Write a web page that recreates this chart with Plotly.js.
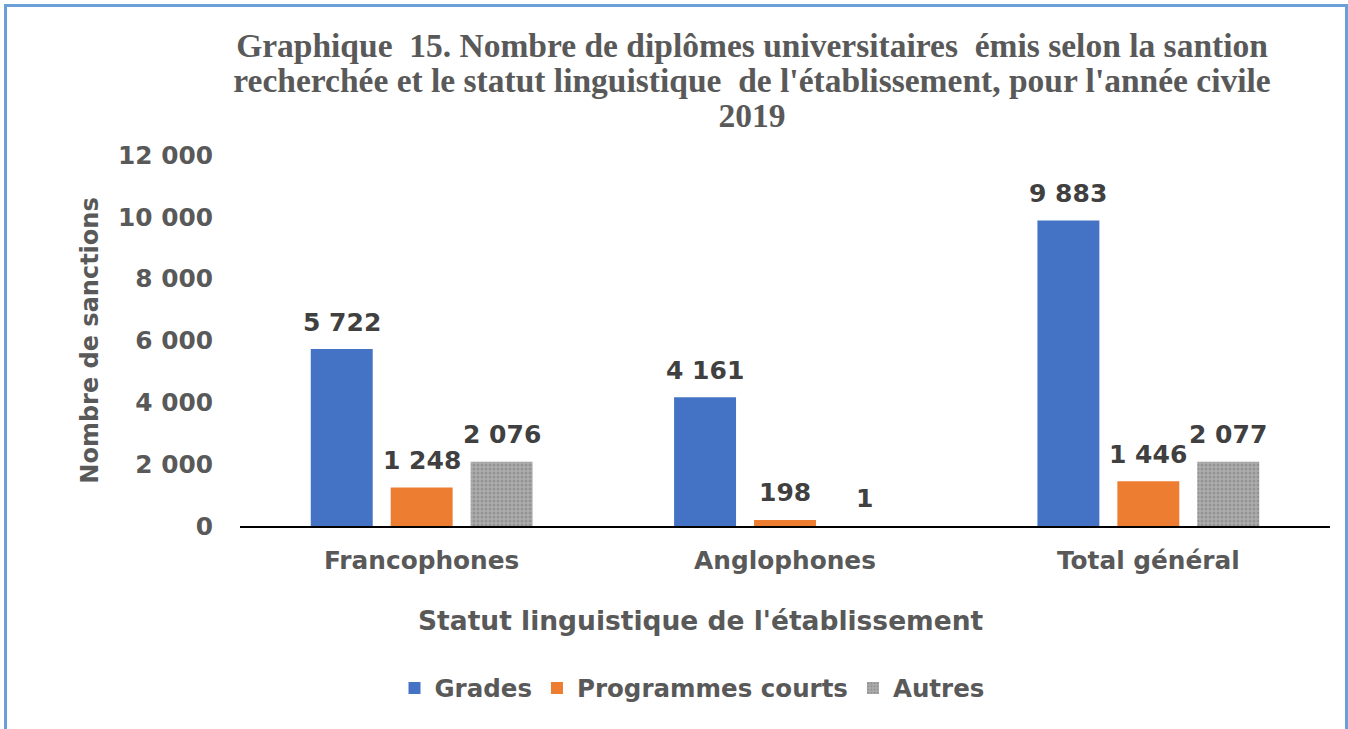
<!DOCTYPE html>
<html>
<head>
<meta charset="utf-8">
<script src="https://cdn.plot.ly/plotly-3.0.1.min.js"></script>
<style>
  html, body { margin: 0; padding: 0; background: #ffffff; }
  #wrap { position: relative; width: 1348px; height: 729px; overflow: hidden; background: #ffffff; }
  #chart { position: absolute; left: 0; top: 0; width: 1348px; height: 729px; }
  #frame { position: absolute; left: 4px; top: 4px; width: 1338px; height: 760px; border: 3px solid #6a9fd8; pointer-events: none; }
</style>
</head>
<body>
<div id="wrap">
  <div id="chart"></div>
  <div id="frame"></div>
</div>
<script>
// ---- Data ----
const categories = ["Francophones", "Anglophones", "Total général"];
const seriesNames = ["Grades", "Programmes courts", "Autres"];
const grades = [5722, 4161, 9883];
const programmesCourts = [1248, 198, 1446];
const autres = [2076, 1, 2077];
const yTickValues = [0, 2000, 4000, 6000, 8000, 10000, 12000];

const titleLines = [
  "Graphique\u00a0 15. Nombre de diplômes universitaires\u00a0 émis selon la santion",
  "recherchée et le statut linguistique\u00a0 de l'établissement, pour l'année civile",
  "2019"
];
const yTitle = "Nombre de sanctions";
const xTitle = "Statut linguistique de l'établissement";

// ---- Styles ----
const colors = ["#4472C4", "#ED7D31", "#A5A5A5"];
const sansFont = "DejaVu Sans, Verdana, sans-serif";
const serifFont = "Liberation Serif, Times New Roman, serif";
const textGrey = "#595959";
const bargap = 0.34;
const bargroupgap = 0.225;
const W = 1348, H = 729;
const margin = { l: 240, r: 18, t: 155, b: 203, pad: 0 };

function fmt(v) {
  return String(v).replace(/\B(?=(\d{3})+(?!\d))/g, " ");
}

const allSeries = [grades, programmesCourts, autres];
const traces = allSeries.map((vals, i) => {
  const t = {
    type: "bar",
    name: seriesNames[i],
    x: categories,
    y: vals,
    marker: { color: colors[i], line: { width: 0 } },
    hoverinfo: "x+y+name"
  };
  if (i === 2) {
    t.marker.pattern = { shape: ".", size: 4, solidity: 0.45, fgcolor: "#939393", bgcolor: "#adadad", fillmode: "replace" };
  }
  return t;
});

// data labels placed above each bar via annotations
const nSeries = allSeries.length;
const slot = (1 - bargap) / nSeries;
const annotations = [];
allSeries.forEach((vals, si) => {
  vals.forEach((v, ci) => {
    annotations.push({
      xref: "x", yref: "y",
      x: ci + (si - (nSeries - 1) / 2) * slot,
      y: v,
      text: fmt(v),
      showarrow: false,
      yanchor: "middle",
      yshift: 27,
      font: { family: sansFont, size: 25, color: "#404040", weight: "bold" }
    });
  });
});

// x-axis title (Excel places it off-centre, left of the plot centre)
const plotW = W - margin.l - margin.r;
const plotH = H - margin.t - margin.b;
annotations.push({
  xref: "paper", yref: "paper",
  x: (701 - margin.l) / plotW, xanchor: "center",
  y: -(620 - (H - margin.b)) / plotH, yanchor: "middle",
  text: xTitle,
  showarrow: false,
  font: { family: sansFont, size: 26.5, color: textGrey, weight: "bold" }
});

const layout = {
  width: W,
  height: H,
  paper_bgcolor: "rgba(0,0,0,0)",
  plot_bgcolor: "rgba(0,0,0,0)",
  margin: margin,
  barmode: "group",
  bargap: bargap,
  bargroupgap: bargroupgap,
  showlegend: true,
  title: {
    text: titleLines.map(l => '<span style="font-size:33.5px">' + l + '</span>').join("<br>"),
    font: { family: serifFont, size: 27, color: textGrey, weight: "bold" },
    x: 752 / W, xanchor: "center", xref: "container",
    y: 1 - 57 / H, yanchor: "top", yref: "container"
  },
  xaxis: {
    type: "category",
    showgrid: false,
    zeroline: false,
    showline: true,
    linecolor: "#000000",
    linewidth: 2,
    ticks: "",
    ticklabelstandoff: 11,
    tickfont: { family: sansFont, size: 24.8, color: textGrey, weight: "bold" },
    fixedrange: true
  },
  yaxis: {
    range: [0, 12000],
    tickvals: yTickValues,
    ticktext: yTickValues.map(fmt),
    showgrid: false,
    zeroline: false,
    showline: false,
    ticks: "",
    ticklabelstandoff: 26,
    tickfont: { family: sansFont, size: 24.8, color: textGrey, weight: "bold" },
    title: {
      text: yTitle,
      font: { family: sansFont, size: 24, color: textGrey, weight: "bold" },
      standoff: 12
    },
    fixedrange: true
  },
  legend: {
    orientation: "h",
    xref: "container", yref: "container",
    x: 692 / W, xanchor: "center",
    y: 1 - 688 / H, yanchor: "middle",
    font: { family: sansFont, size: 24.5, color: textGrey, weight: "bold" },
    itemwidth: 30,
    bgcolor: "rgba(0,0,0,0)"
  },
  annotations: annotations
};

Plotly.newPlot("chart", traces, layout, { displayModeBar: false, staticPlot: true });
</script>
</body>
</html>
